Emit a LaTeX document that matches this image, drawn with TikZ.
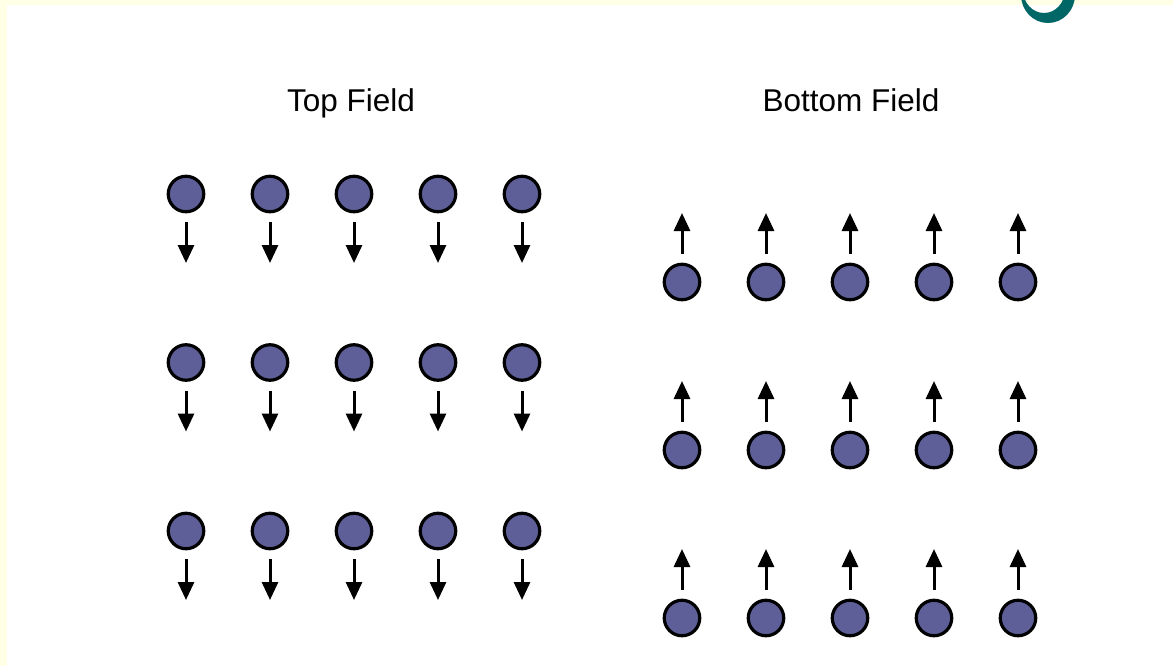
\documentclass[tikz,border=0pt]{standalone}
\usepackage{fontspec}
\setmainfont{Liberation Sans}
\usetikzlibrary{arrows.meta}
\definecolor{bgyellow}{RGB}{255,255,229}
\definecolor{dotfill}{RGB}{94,94,152}
\definecolor{titleteal}{RGB}{0,102,102}
\tikzset{
  dot/.style={circle,draw=black,line width=3.2pt,fill=dotfill,minimum size=35.5pt,inner sep=0pt},
  fieldarrow/.style={line width=3pt,-{Triangle[width=16pt,length=18pt]}},
  fieldtitle/.style={anchor=base,inner sep=0pt,font=\fontsize{31.5}{36}\selectfont}
}
\begin{document}
\begin{tikzpicture}[x=1pt,y=-1pt]
\useasboundingbox (0,0) rectangle (1173,666);
\fill[bgyellow] (0,0) rectangle (1173,666);
\fill[white] (7,5) rectangle (1173,666);
\begin{scope}
\clip (0,0) rectangle (1173,666);
\fill[titleteal,even odd rule] (1048,-5) ellipse (27 and 28) (1044,-10) ellipse (21 and 23);
\end{scope}
\node[fieldtitle] (toptitle) at (351,112) {Top Field};
\node[fieldtitle] (bottitle) at (851,112) {Bottom Field};
\foreach \i in {1,...,5}{
  \foreach \j in {1,2,3}{
    \pgfmathsetmacro{\tx}{186+84*(\i-1)}
    \pgfmathsetmacro{\ty}{194+168.5*(\j-1)}
    \pgfmathsetmacro{\bx}{682+84*(\i-1)}
    \pgfmathsetmacro{\by}{282+168*(\j-1)}
    \node[dot] (t-\i-\j) at (\tx,\ty) {};
    \coordinate (ta-\i-\j) at (\tx,\ty+28);
    \coordinate (tb-\i-\j) at (\tx,\ty+69);
    \draw[fieldarrow] (ta-\i-\j) -- (tb-\i-\j);
    \node[dot] (b-\i-\j) at (\bx,\by) {};
    \coordinate (ba-\i-\j) at (\bx,\by-28);
    \coordinate (bb-\i-\j) at (\bx,\by-69);
    \draw[fieldarrow] (ba-\i-\j) -- (bb-\i-\j);
  }
}
\end{tikzpicture}
\end{document}
